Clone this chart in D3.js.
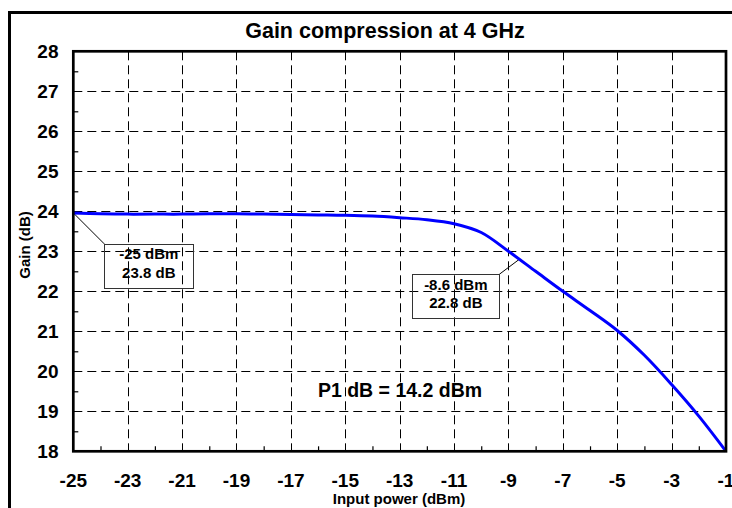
<!DOCTYPE html>
<html>
<head>
<meta charset="utf-8">
<script src="https://cdn.jsdelivr.net/npm/d3@7"></script>
<style>
	body { margin: 0; background: #fff; }
	text { font-family: Arial, "Liberation Sans", sans-serif; font-weight: bold; fill: #000; }
</style>
</head>
<body>
<div id="chart"></div>
<script>
// input power values (dBm)
var inputPower = [-25, -24, -23, -22, -21, -20, -19, -18, -17, -16, -15, -14, -13,
	-12, -11, -10, -9, -8, -7, -6, -5, -4, -3, -2, -1];

// measured gain values (dB)
var gain = [23.96, 23.94, 23.93, 23.93, 23.93, 23.94, 23.94, 23.93, 23.92, 23.91, 23.90, 23.88, 23.84,
	23.79, 23.69, 23.47, 23.00, 22.50, 22.00, 21.52, 21.02, 20.40, 19.67, 18.88, 18.00];

// tick labels for both axes
var xTicks = [-25, -23, -21, -19, -17, -15, -13, -11, -9, -7, -5, -3, -1];
var yTicks = [18, 19, 20, 21, 22, 23, 24, 25, 26, 27, 28];

// data labels
var labelPower = [-25, -8.6];
var labelGain = [23.8, 22.8];

// texts
var chartTitle = "Gain compression at 4 GHz";
var xTitle = "Input power (dBm)";
var yTitle = "Gain (dB)";
var p1Note = "P1 dB = 14.2 dBm";

var width = 732, height = 508;
var plot = { left: 73.3, right: 726, top: 51.3, bottom: 451.3 };

/**
 * linear interpolation of the curve at a given input power
 */
function gainAt(p)
{
	for (var i = 0; i < inputPower.length - 1; i++)
	{
		if (p >= inputPower[i] && p <= inputPower[i + 1])
		{
			var t = (p - inputPower[i]) / (inputPower[i + 1] - inputPower[i]);
			return gain[i] + t * (gain[i + 1] - gain[i]);
		}
	}
	return gain[gain.length - 1];
}

/**
 * renders the whole chart
 */
function renderChart(container)
{
	var svg = d3.select(container).append("svg")
		.attr("width", width)
		.attr("height", height);

	var x = d3.scaleLinear().domain([-25, -1]).range([plot.left, plot.right]);
	var y = d3.scaleLinear().domain([18, 28]).range([plot.bottom, plot.top]);

	// outer chart frame, runs off the right and bottom edge
	svg.append("path")
		.attr("d", "M9.5,520 V12.5 H745")
		.attr("fill", "none")
		.attr("stroke", "#000")
		.attr("stroke-width", 3);

	// title
	svg.append("text")
		.attr("x", 385)
		.attr("y", 38)
		.attr("text-anchor", "middle")
		.attr("font-size", 21.5)
		.text(chartTitle);

	// dashed grid
	var grid = svg.append("g").attr("stroke", "#000").attr("stroke-width", 1)
		.attr("stroke-dasharray", "9,5");

	grid.selectAll("line.h")
		.data(yTicks.slice(1, -1))
		.enter().append("line")
		.attr("x1", plot.left).attr("x2", plot.right)
		.attr("y1", function (d) { return Math.round(y(d)) + 0.5; })
		.attr("y2", function (d) { return Math.round(y(d)) + 0.5; });

	grid.selectAll("line.v")
		.data(xTicks.slice(1, -1))
		.enter().append("line")
		.attr("y1", plot.top).attr("y2", plot.bottom)
		.attr("x1", function (d) { return Math.round(x(d)) + 0.5; })
		.attr("x2", function (d) { return Math.round(x(d)) + 0.5; });

	// minor tick marks pointing inward
	var yAxis = d3.axisRight(y).tickValues(d3.range(18.5, 28, 1)).tickSize(5).tickFormat("");
	svg.append("g")
		.attr("transform", "translate(" + plot.left + ",0)")
		.call(yAxis)
		.call(function (g) { g.select(".domain").remove(); g.selectAll("line").attr("stroke-width", 1.2); });

	var xAxis = d3.axisTop(x).tickValues(d3.range(-24, -1, 2)).tickSize(5).tickFormat("");
	svg.append("g")
		.attr("transform", "translate(0," + plot.bottom + ")")
		.call(xAxis)
		.call(function (g) { g.select(".domain").remove(); g.selectAll("line").attr("stroke-width", 1.2); });

	// tick labels
	svg.selectAll("text.ytick")
		.data(yTicks)
		.enter().append("text")
		.attr("class", "ytick")
		.attr("x", 58.5)
		.attr("y", function (d) { return y(d) + 6.8; })
		.attr("text-anchor", "end")
		.attr("font-size", 19)
		.text(function (d) { return d; });

	// the last label is cut by the edge, as in the original
	svg.selectAll("text.xtick")
		.data(xTicks)
		.enter().append("text")
		.attr("class", "xtick")
		.attr("x", function (d) { return x(d); })
		.attr("y", 487)
		.attr("text-anchor", "middle")
		.attr("font-size", 19)
		.text(function (d) { return d; });

	// axis titles
	svg.append("text")
		.attr("x", 399)
		.attr("y", 504)
		.attr("text-anchor", "middle")
		.attr("font-size", 15)
		.text(xTitle);

	svg.append("text")
		.attr("transform", "translate(30,245) rotate(-90)")
		.attr("text-anchor", "middle")
		.attr("font-size", 15)
		.text(yTitle);

	// P1 dB note
	svg.append("text")
		.attr("x", 400)
		.attr("y", 396.7)
		.attr("text-anchor", "middle")
		.attr("font-size", 19.5)
		.text(p1Note);

	// data labels: box offset from the point it points at
	var boxOffset = [{ dx: 31, dy: 31, w: 89, h: 44, side: "left" },
		{ dx: -20, dy: 15, w: 87, h: 44, side: "right" }];

	labelPower.forEach(function (p, i)
	{
		var px = x(p), py = y(gainAt(p));
		var o = boxOffset[i];
		var bx = o.side === "left" ? px + o.dx : px + o.dx - o.w;
		var by = py + o.dy;
		var cx = o.side === "left" ? bx : bx + o.w;

		var g = svg.append("g");
		g.append("line")
			.attr("x1", px).attr("y1", py)
			.attr("x2", cx).attr("y2", by)
			.attr("stroke", "#000").attr("stroke-width", 1);
		g.append("rect")
			.attr("x", Math.round(bx) + 0.5).attr("y", Math.round(by) + 0.5)
			.attr("width", o.w).attr("height", o.h)
			.attr("fill", "none")
			.attr("stroke", "#333").attr("stroke-width", 1);
		g.append("text")
			.attr("x", bx + o.w / 2).attr("y", by + 15.5)
			.attr("text-anchor", "middle")
			.attr("font-size", 15)
			.text(p + " dBm");
		g.append("text")
			.attr("x", bx + o.w / 2).attr("y", by + 34)
			.attr("text-anchor", "middle")
			.attr("font-size", 15)
			.text(labelGain[i].toFixed(1) + " dB");
	});

	// gain curve
	var line = d3.line()
		.x(function (d, i) { return x(inputPower[i]); })
		.y(function (d) { return y(d); })
		.curve(d3.curveCatmullRom.alpha(0.5));

	svg.append("path")
		.datum(gain)
		.attr("d", line)
		.attr("fill", "none")
		.attr("stroke", "#0000ff")
		.attr("stroke-width", 3)
		.attr("stroke-linejoin", "round");

	// plot frame
	svg.append("rect")
		.attr("x", plot.left).attr("y", plot.top)
		.attr("width", plot.right - plot.left)
		.attr("height", plot.bottom - plot.top)
		.attr("fill", "none")
		.attr("stroke", "#000")
		.attr("stroke-width", 2.7);
}

renderChart("#chart");
</script>
</body>
</html>
